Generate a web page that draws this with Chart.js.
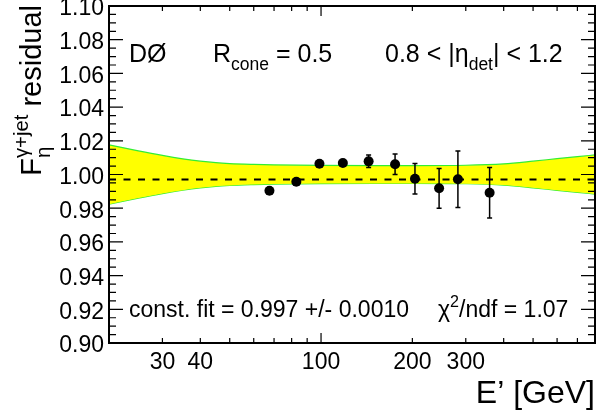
<!DOCTYPE html>
<html>
<head>
<meta charset="utf-8">
<script src="https://cdn.jsdelivr.net/npm/chart.js@4.4.1/dist/chart.umd.min.js"></script>
<style>
  html, body { margin: 0; padding: 0; background: #fff; }
  #wrap { width: 600px; height: 418px; }
</style>
</head>
<body>
<div id="wrap"><canvas id="residualChart" width="600" height="418"></canvas></div>
<script>
// measured points (E' in GeV, residual, stat error)
const energies = [67.6, 82.9, 98.8, 118, 143.5, 175.4, 204, 245, 282.6, 359.5];
const residuals = [0.9904, 0.9957, 1.0064, 1.0068, 1.0078, 1.0061, 0.9975, 0.9918, 0.9972, 0.9892];
const residualErrors = [0.0015, 0.0015, 0.0018, 0.0018, 0.0037, 0.0061, 0.0090, 0.0118, 0.0168, 0.0150];

// uncertainty band (yellow)
const bandEnergies = [20, 25, 30, 35, 40, 45, 50, 60, 70, 100, 150, 200, 300, 400, 500, 600, 700, 800];
const bandUpper = [1.0176, 1.0140, 1.0113, 1.0093, 1.0079, 1.0070, 1.0065, 1.0060, 1.0057, 1.0054, 1.0053, 1.0053, 1.0055, 1.0063, 1.0079, 1.0094, 1.0106, 1.0116];
const bandLower = [0.9824, 0.9860, 0.9887, 0.9907, 0.9921, 0.9930, 0.9935, 0.9940, 0.9943, 0.9946, 0.9947, 0.9947, 0.9945, 0.9937, 0.9921, 0.9906, 0.9894, 0.9884];

const fitValue = 0.997;
const xRange = [20, 800];
const yRange = [0.90, 1.10];
const xTickValues = [20, 30, 40, 50, 60, 70, 80, 90, 100, 200, 300, 400, 500, 600, 700, 800];
const xLabeled = [30, 40, 100, 200, 300];
const yTickValues = [0.90, 0.92, 0.94, 0.96, 0.98, 1.00, 1.02, 1.04, 1.06, 1.08, 1.10];

const FONT = '"Liberation Sans", Arial, Helvetica, sans-serif';

function richText(ctx, x, y, parts, size) {
  let cx = x;
  parts.forEach(p => {
    const s = size * (p.s || 1);
    ctx.font = s + 'px ' + FONT;
    ctx.fillText(p.t, cx, y + (p.dy || 0) * size);
    cx += ctx.measureText(p.t).width;
  });
  return cx - x;
}

const errorBars = {
  id: 'errorBars',
  beforeDatasetDraw(chart, args) {
    if (args.index !== 0) return;
    const ctx = chart.ctx, xs = chart.scales.x, ys = chart.scales.y;
    ctx.save();
    ctx.strokeStyle = '#000';
    ctx.lineWidth = 1.5;
    energies.forEach((e, i) => {
      const px = xs.getPixelForValue(e);
      const top = ys.getPixelForValue(residuals[i] + residualErrors[i]);
      const bot = ys.getPixelForValue(residuals[i] - residualErrors[i]);
      ctx.beginPath();
      ctx.moveTo(px, top); ctx.lineTo(px, bot);
      ctx.moveTo(px - 2.5, top); ctx.lineTo(px + 2.5, top);
      ctx.moveTo(px - 2.5, bot); ctx.lineTo(px + 2.5, bot);
      ctx.stroke();
    });
    ctx.restore();
  }
};

const frameAndText = {
  id: 'frameAndText',
  afterDraw(chart) {
    const ctx = chart.ctx, a = chart.chartArea;
    const xs = chart.scales.x, ys = chart.scales.y;
    ctx.save();
    ctx.strokeStyle = '#000';
    ctx.lineWidth = 1.2;
    ctx.beginPath();
    xTickValues.forEach(v => {
      const px = xs.getPixelForValue(v);
      const len = (v === 100) ? 10 : 5;
      ctx.moveTo(px, a.bottom); ctx.lineTo(px, a.bottom - len);
      ctx.moveTo(px, a.top); ctx.lineTo(px, a.top + len);
    });
    for (let k = 0; k <= 40; k++) {
      const v = yRange[0] + k * 0.005;
      const py = ys.getPixelForValue(v);
      const len = (k % 4 === 0) ? 14 : 7;
      ctx.moveTo(a.left, py); ctx.lineTo(a.left + len, py);
      ctx.moveTo(a.right, py); ctx.lineTo(a.right - len, py);
    }
    ctx.stroke();
    ctx.lineWidth = 2;
    ctx.strokeRect(a.left, a.top, a.right - a.left, a.bottom - a.top);

    ctx.fillStyle = '#000';
    ctx.textBaseline = 'alphabetic';
    ctx.textAlign = 'left';
    // labels inside the frame
    richText(ctx, 129, 62, [{ t: 'DØ' }], 25);
    richText(ctx, 213, 62, [{ t: 'R' }, { t: 'cone', s: 0.7, dy: 0.3 }, { t: ' = 0.5' }], 25);
    richText(ctx, 385, 62, [{ t: '0.8 < |η' }, { t: 'det', s: 0.7, dy: 0.3 }, { t: '| < 1.2' }], 25);
    richText(ctx, 129, 317, [{ t: 'const. fit = 0.997 +/- 0.0010' }], 23);
    richText(ctx, 438, 317, [{ t: 'χ' }, { t: '2', s: 0.7, dy: -0.45 }, { t: '/ndf = 1.07' }], 23);

    // x title
    ctx.font = '32px ' + FONT;
    ctx.textAlign = 'right';
    ctx.fillText('E’ [GeV]', a.right, 403);

    // y title, rotated, ending at the top of the frame
    const size = 29;
    ctx.translate(41, 5);
    ctx.rotate(-Math.PI / 2);
    ctx.textAlign = 'left';
    ctx.font = size + 'px ' + FONT;
    const wRes = ctx.measureText(' residual').width;
    const wF = ctx.measureText('F').width;
    ctx.font = (size * 0.7) + 'px ' + FONT;
    const wSup = ctx.measureText('γ+jet').width;
    const wSub = ctx.measureText('η').width;
    const total = wF + Math.max(wSup, wSub) + wRes;
    let cx = -total;
    ctx.font = size + 'px ' + FONT;
    ctx.fillText('F', cx, 0);
    cx += wF;
    ctx.font = (size * 0.7) + 'px ' + FONT;
    ctx.fillText('γ+jet', cx, -0.45 * size);
    ctx.fillText('η', cx, 0.3 * size);
    cx += Math.max(wSup, wSub);
    ctx.font = size + 'px ' + FONT;
    ctx.fillText(' residual', cx, 0);
    ctx.restore();
  }
};

const pointData = energies.map((e, i) => ({ x: e, y: residuals[i] }));
const upperData = bandEnergies.map((e, i) => ({ x: e, y: bandUpper[i] }));
const lowerData = bandEnergies.map((e, i) => ({ x: e, y: bandLower[i] }));
const fitData = xRange.map(e => ({ x: e, y: fitValue }));

const ctx = document.getElementById('residualChart').getContext('2d');
new Chart(ctx, {
  type: 'line',
  data: {
    datasets: [
      {
        label: 'data',
        data: pointData,
        showLine: false,
        pointRadius: 5,
        pointBackgroundColor: '#000',
        pointBorderColor: '#000',
        pointBorderWidth: 0
      },
      {
        label: 'const. fit',
        data: fitData,
        borderColor: '#000',
        borderWidth: 2,
        borderDash: [7, 7.5],
        pointRadius: 0
      },
      {
        label: 'band up',
        data: upperData,
        borderColor: '#33ee33',
        borderWidth: 1.2,
        backgroundColor: '#ffff00',
        fill: '+1',
        pointRadius: 0,
        cubicInterpolationMode: 'monotone'
      },
      {
        label: 'band low',
        data: lowerData,
        borderColor: '#33ee33',
        borderWidth: 1.2,
        fill: false,
        pointRadius: 0,
        cubicInterpolationMode: 'monotone'
      }
    ]
  },
  options: {
    responsive: false,
    animation: false,
    devicePixelRatio: 1,
    layout: { padding: { top: 6, right: 3, left: 0, bottom: 0 } },
    plugins: { legend: { display: false }, tooltip: { enabled: false } },
    scales: {
      x: {
        type: 'logarithmic',
        min: xRange[0],
        max: xRange[1],
        afterBuildTicks: (scale) => { scale.ticks = xTickValues.map(v => ({ value: v })); },
        afterFit: (scale) => { scale.height = 75; scale.paddingLeft = 0; scale.paddingRight = 0; },
        ticks: {
          autoSkip: false,
          maxRotation: 0,
          padding: 6,
          color: '#000',
          font: { family: FONT, size: 23 },
          callback: (v) => xLabeled.includes(v) ? String(v) : ''
        },
        grid: { display: false, drawTicks: false },
        border: { display: false }
      },
      y: {
        min: yRange[0],
        max: yRange[1],
        afterBuildTicks: (scale) => { scale.ticks = yTickValues.map(v => ({ value: v })); },
        afterFit: (scale) => { scale.width = 109; scale.paddingTop = 0; scale.paddingBottom = 0; },
        ticks: {
          padding: 5,
          labelOffset: 3,
          color: '#000',
          font: { family: FONT, size: 23 },
          callback: (v) => v.toFixed(2)
        },
        grid: { display: false, drawTicks: false },
        border: { display: false }
      }
    }
  },
  plugins: [errorBars, frameAndText]
});
</script>
</body>
</html>
